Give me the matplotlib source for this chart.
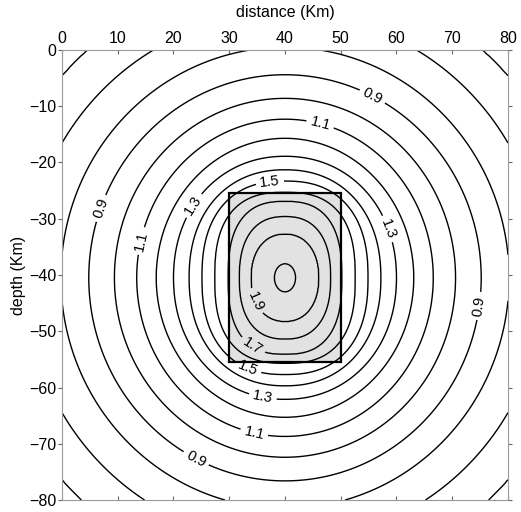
import matplotlib
matplotlib.use("Agg")
import matplotlib.pyplot as plt
import numpy as np
from matplotlib.patches import Rectangle

plt.rcParams['font.family'] = ['Liberation Sans', 'DejaVu Sans']

levels = [0.6, 0.7, 0.8, 0.9, 1.0, 1.1, 1.2, 1.3, 1.4, 1.5, 1.6, 1.7, 1.8, 1.9, 2.0]
half_x = [53.5, 46.5, 40.2, 35.2, 30.6, 26.6, 23.1, 20.0, 17.2, 14.9, 12.6, 10.2, 8.2, 6.1, 1.9]
half_y = [54.0, 47.0, 41.0, 36.1, 31.9, 28.2, 24.8, 21.6, 19.2, 17.2, 15.2, 13.6, 10.9, 7.8, 2.5]
shape_p = [2.0, 2.0, 2.0, 2.0, 2.0, 2.0, 2.0, 2.1, 2.2, 2.4, 2.6, 2.6, 2.4, 2.2, 2.0]
center = (40.0, -40.5)

labelled = [0.9, 1.1, 1.3, 1.5, 1.7, 1.9]
label_pos = [(55.6, -8.4), (6.8, -28.1), (73.2, -45.3), (23.9, -72.9),
             (46.3, -13.2), (13.5, -33.8), (34.3, -68.8),
             (23.5, -27.6), (57.9, -32.0), (35.9, -62.3),
             (37.3, -23.6), (33.2, -56.9),
             (34.3, -52.4), (34.3, -45.0)]

# Quader (Stoerkoerper)
box_x = (30, 50)
box_y = (-55.5, -25.5)

x_ticks = [0, 10, 20, 30, 40, 50, 60, 70, 80]
y_ticks = [0, -10, -20, -30, -40, -50, -60, -70, -80]


def build_field(xx, yy):
    dx = np.abs(xx - center[0])
    dy = np.abs(yy - center[1])
    R = []
    for a, b, p in zip(half_x, half_y, shape_p):
        R.append(((dx / a) ** p + (dy / b) ** p) ** (1.0 / p))
    R = np.array(R)
    step = 0.1
    z = np.full(xx.shape, levels[0] - step * 0.5)
    out = R[0] > 1
    z[out] = levels[0] - step * (R[0][out] - 1) / (R[0][out] + 0.2)
    for k in range(len(levels) - 1):
        m = (R[k] <= 1) & (R[k + 1] > 1)
        z[m] = levels[k] + step * (1 - R[k][m]) / (R[k + 1][m] - R[k][m])
    inner = R[-1] <= 1
    z[inner] = levels[-1] + step * (1 - R[-1][inner])
    return z


xs = np.linspace(0, 80, 601)
ys = np.linspace(-80, 0, 601)
X, Y = np.meshgrid(xs, ys)
Z = build_field(X, Y)

fig = plt.figure(figsize=(5.21, 5.12), dpi=100)
ax = fig.add_axes([0.119, 0.0234, 0.856, 0.879])

ax.add_patch(Rectangle((box_x[0], box_y[0]), box_x[1] - box_x[0], box_y[1] - box_y[0],
                       facecolor='#e2e2e2', edgecolor='none', zorder=1))

plain = [lv for lv in levels if lv not in labelled]
ax.contour(X, Y, Z, levels=plain, colors='black', linewidths=1.0, zorder=2)
cs = ax.contour(X, Y, Z, levels=labelled, colors='black', linewidths=1.0, zorder=2)
ax.clabel(cs, fmt='%.1f', fontsize=10.5, inline=True, inline_spacing=4, manual=label_pos)

ax.add_patch(Rectangle((box_x[0], box_y[0]), box_x[1] - box_x[0], box_y[1] - box_y[0],
                       facecolor='none', edgecolor='black', linewidth=1.6, zorder=3))

ax.set_xlim(0, 80)
ax.set_ylim(-80, 0)
ax.set_xticks(x_ticks)
ax.set_yticks(y_ticks)
ax.xaxis.set_ticks_position('top')
ax.xaxis.set_label_position('top')
ax.tick_params(axis='x', which='both', top=True, bottom=True, labeltop=True,
               labelbottom=False, direction='in', length=3, color='0.4',
               labelsize=11.5, pad=3)
ax.tick_params(axis='y', which='both', left=True, right=True, direction='out',
               length=3, color='0.4', labelsize=11.5, pad=1)
ax.set_xlabel('distance (Km)', fontsize=11.5, labelpad=10)
ax.set_ylabel('depth (Km)', fontsize=11.5, labelpad=2)

for s in ax.spines.values():
    s.set_color('0.6')
    s.set_linewidth(0.8)

plt.savefig('out.png', dpi=100)
plt.close()
